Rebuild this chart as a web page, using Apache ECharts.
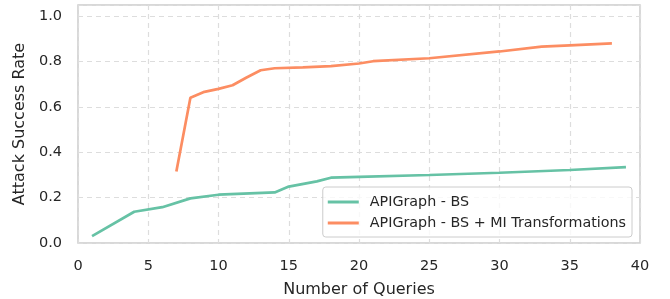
<!DOCTYPE html>
<html>
  <head>
    <meta charset="utf-8" />
    <title>Attack Success Rate</title>
    <script src="https://cdn.jsdelivr.net/npm/echarts@6/dist/echarts.min.js"></script>
  </head>
  <body style="margin: 0">
    <div id="main" style="width: 670px; height: 299px"></div>
    <script type="text/javascript">
      var myChart = echarts.init(document.getElementById("main"));

      // APIGraph - BS
      var bsQueries = [1, 4, 6, 8, 10, 14, 15, 17, 18, 20, 25, 30, 35, 39];
      var bsRate = [0.03, 0.138, 0.158, 0.197, 0.213, 0.223, 0.249, 0.272, 0.288, 0.292, 0.3, 0.31, 0.322, 0.335];

      // APIGraph - BS + MI Transformations
      var miQueries = [7, 8, 9, 10, 11, 12, 13, 14, 16, 18, 20, 21, 25, 30, 33, 35, 38];
      var miRate = [0.315, 0.641, 0.667, 0.68, 0.696, 0.73, 0.762, 0.771, 0.775, 0.78, 0.792, 0.802, 0.815, 0.845, 0.866, 0.872, 0.881];

      var font = "DejaVu Sans";
      var ink = "#262626";

      function pairs(xs, ys) {
        var out = [];
        for (var i = 0; i < xs.length; i++) out.push([xs[i], ys[i]]);
        return out;
      }

      var gridLine = { show: true, lineStyle: { color: "#dddddd", type: [5, 4], width: 1.2 } };
      var legendIcon = "path://M0,0 L31,0 L31,3 L0,3 Z";

      var option = {
        animation: false,
        textStyle: { fontFamily: font },
        grid: {
          left: 78,
          right: 30,
          top: 5,
          bottom: 56,
          outerBoundsMode: "none",
          show: true,
          borderColor: "#cccccc",
          borderWidth: 1.5,
        },
        legend: {
          right: 38,
          top: 187,
          orient: "vertical",
          align: "left",
          itemWidth: 31,
          itemHeight: 15,
          itemGap: 7,
          padding: [8, 6, 7, 5],
          borderColor: "#cccccc",
          borderWidth: 1,
          borderRadius: 3,
          backgroundColor: "rgba(255,255,255,0.8)",
          textStyle: { fontFamily: font, fontSize: 14.3, color: ink, padding: [0, 0, 0, 6] },
          data: [
            { name: "APIGraph - BS", icon: legendIcon },
            { name: "APIGraph - BS + MI Transformations", icon: legendIcon },
          ],
        },
        xAxis: {
          type: "value",
          min: 0,
          max: 40,
          interval: 5,
          name: "Number of Queries",
          nameLocation: "middle",
          nameGap: 39,
          nameTextStyle: { fontFamily: font, fontSize: 16, color: ink },
          axisLine: { show: false },
          axisTick: { show: false },
          axisLabel: { margin: 16, fontSize: 14.5, color: ink, fontFamily: font },
          splitLine: gridLine,
        },
        yAxis: {
          type: "value",
          min: 0,
          max: 1.05,
          interval: 0.2,
          name: "Attack Success Rate",
          nameLocation: "middle",
          nameGap: 42,
          nameTextStyle: { fontFamily: font, fontSize: 16, color: ink },
          axisLine: { show: false },
          axisTick: { show: false },
          axisLabel: {
            margin: 16,
            fontSize: 14.5,
            color: ink,
            fontFamily: font,
            showMaxLabel: false,
            formatter: function (v) {
              return v.toFixed(1);
            },
          },
          splitLine: gridLine,
        },
        series: [
          {
            name: "APIGraph - BS",
            type: "line",
            data: pairs(bsQueries, bsRate),
            showSymbol: false,
            color: "#66c2a5",
            lineStyle: { width: 2.7 },
          },
          {
            name: "APIGraph - BS + MI Transformations",
            type: "line",
            data: pairs(miQueries, miRate),
            showSymbol: false,
            color: "#fc8d62",
            lineStyle: { width: 2.7 },
          },
        ],
      };
      myChart.setOption(option);
    </script>
  </body>
</html>
